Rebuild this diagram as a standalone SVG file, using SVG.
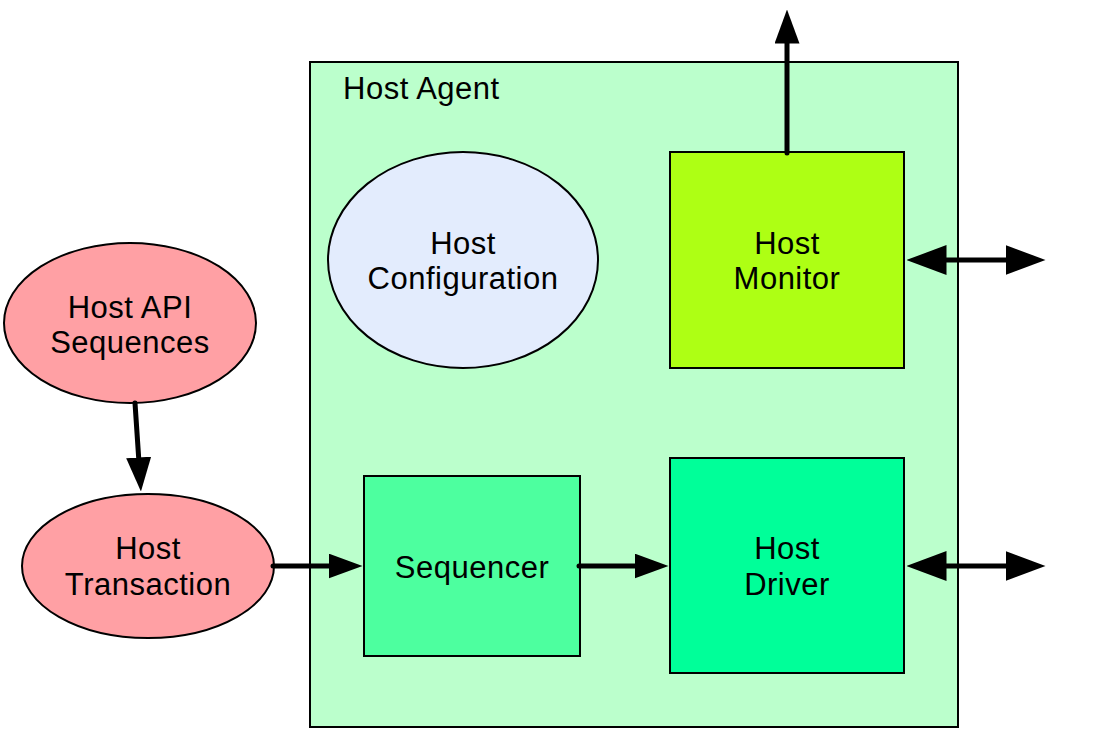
<svg xmlns="http://www.w3.org/2000/svg" width="1100" height="732" viewBox="0 0 1100 732">
<defs>
<style>
.n{stroke:#000;stroke-width:2}
.t{font-family:"Liberation Sans",Arial,sans-serif;font-size:31px;letter-spacing:0.5px;fill:#000;text-anchor:middle}
.c{stroke:#000;stroke-width:5;fill:none;stroke-linecap:round}
</style>
<marker id="ah" viewBox="0 0 34 25" refX="0.5" refY="12.5" markerWidth="34" markerHeight="25" markerUnits="userSpaceOnUse" orient="auto-start-reverse">
<path d="M0,0 L34,12.5 L0,25 Z" fill="#000"/>
</marker>
<marker id="ahL" viewBox="0 0 40 30" refX="0.5" refY="15" markerWidth="40" markerHeight="30" markerUnits="userSpaceOnUse" orient="auto-start-reverse">
<path d="M0,0 L40,15 L0,30 Z" fill="#000"/>
</marker>
</defs>
<rect width="1100" height="732" fill="#fff"/>
<g id="host-agent">
<rect class="n" x="310" y="62" width="648" height="665" fill="#bbffcc"/>
<text class="t" x="343" y="99" style="text-anchor:start">Host Agent</text>
</g>
<g id="host-configuration">
<ellipse class="n" cx="463" cy="260" rx="135" ry="108" fill="#e3ecfd"/>
<text class="t" x="463" y="254">Host</text>
<text class="t" x="463" y="289">Configuration</text>
</g>
<g id="host-monitor">
<rect class="n" x="670" y="152" width="234" height="216" fill="#aeff14"/>
<text class="t" x="787" y="254">Host</text>
<text class="t" x="787" y="289">Monitor</text>
</g>
<g id="host-api-sequences">
<ellipse class="n" cx="130" cy="323" rx="126" ry="80" fill="#ffa0a4"/>
<text class="t" x="130" y="318">Host API</text>
<text class="t" x="130" y="353">Sequences</text>
</g>
<g id="host-transaction">
<ellipse class="n" cx="148" cy="566" rx="126" ry="72" fill="#ffa0a4"/>
<text class="t" x="148" y="559">Host</text>
<text class="t" x="148" y="595">Transaction</text>
</g>
<g id="sequencer">
<rect class="n" x="364" y="476" width="216" height="180" fill="#4dff9f"/>
<text class="t" x="472" y="578">Sequencer</text>
</g>
<g id="host-driver">
<rect class="n" x="670" y="458" width="234" height="215" fill="#00ff99"/>
<text class="t" x="787" y="559">Host</text>
<text class="t" x="787" y="595">Driver</text>
</g>
<g id="connectors">
<path class="c" d="M787,153 L787,43" marker-end="url(#ah)"/>
<path class="c" d="M946,260 L1006,260" marker-start="url(#ahL)" marker-end="url(#ahL)"/>
<path class="c" d="M946,566 L1006,566" marker-start="url(#ahL)" marker-end="url(#ahL)"/>
<path class="c" d="M135,403 L138.7,458" marker-end="url(#ah)"/>
<path class="c" d="M273,566 L329,566" marker-end="url(#ah)"/>
<path class="c" d="M579,566 L635,566" marker-end="url(#ah)"/>
</g>
</svg>
